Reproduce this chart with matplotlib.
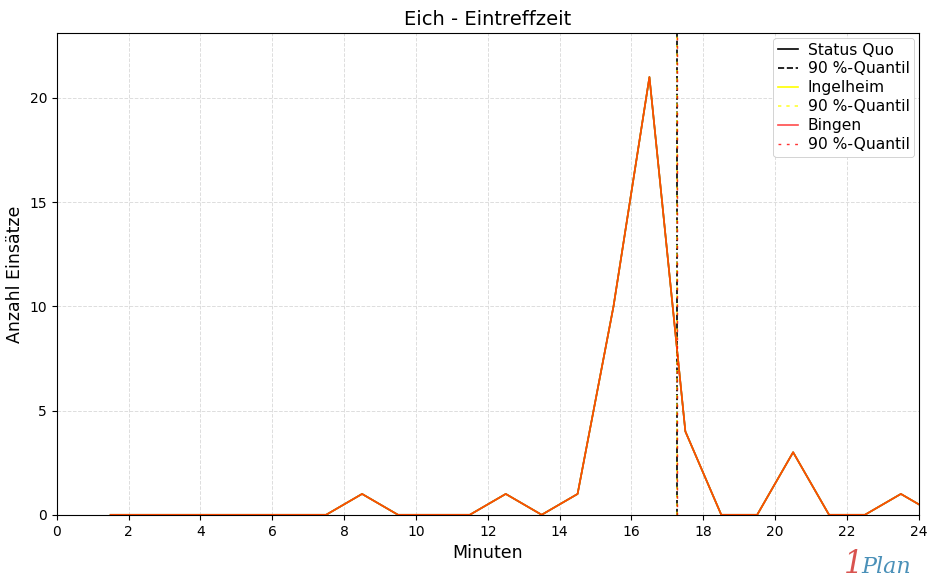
import numpy as np
import matplotlib.pyplot as plt

# Eintreffzeit-Verteilung (Minuten, Klassenmitte)
minuten = np.arange(1.5, 25.0, 1.0)
status_quo = [0, 0, 0, 0, 0, 0, 0, 1, 0, 0, 0, 1, 0, 1, 10, 21, 4, 0, 0, 3, 0, 0, 1, 0]
ingelheim = [0, 0, 0, 0, 0, 0, 0, 1, 0, 0, 0, 1, 0, 1, 10, 21, 4, 0, 0, 3, 0, 0, 1, 0]
bingen = [0, 0, 0, 0, 0, 0, 0, 1, 0, 0, 0, 1, 0, 1, 10, 21, 4, 0, 0, 3, 0, 0, 1, 0]
quantile = [17.27, 17.27, 17.27]

fig, ax = plt.subplots(figsize=(9.3, 5.83), dpi=100)

ymax = max(status_quo) * 1.1

ax.plot(minuten, status_quo, color="black", lw=1.2, label="Status Quo")
ax.axvline(quantile[0], color="black", ls="--", lw=1.2, label="90 %-Quantil")
ax.plot(minuten, ingelheim, color="yellow", lw=1.2, label="Ingelheim")
ax.axvline(quantile[1], color="yellow", ls=(0, (2, 3)), lw=1.2, alpha=0.8, label="90 %-Quantil")
ax.plot(minuten, bingen, color="red", lw=1.2, alpha=0.7, label="Bingen")
ax.axvline(quantile[2], color="red", ls=(0, (2, 4)), lw=1.0, alpha=0.8, label="90 %-Quantil")

ax.set_xlim(0, 24)
ax.set_ylim(0, ymax)
ax.set_xticks(np.arange(0, 25, 2))
ax.set_yticks([0, 5, 10, 15, 20])
ax.tick_params(labelsize=10)
ax.grid(True, color="#dddddd", ls="--", lw=0.7)

ax.set_title("Eich - Eintreffzeit", fontsize=14)
ax.set_xlabel("Minuten", fontsize=12.5)
ax.set_ylabel("Anzahl Einsätze", fontsize=12.5)
leg = ax.legend(loc="upper right", fontsize=11.2, handlelength=1.3, borderpad=0.3,
                labelspacing=0.25, handletextpad=0.6, borderaxespad=0.3, framealpha=1)
leg.get_frame().set_linewidth(0.6)

plt.subplots_adjust(left=0.061, right=0.988, top=0.943, bottom=0.117)

# Logo
fig.text(0.907, 0.005, "1", color="#d9534f", fontsize=22, style="italic",
         family="DejaVu Serif", ha="left", va="bottom")
fig.text(0.926, 0.008, "Plan", color="#4a90b8", fontsize=16, style="italic",
         family="DejaVu Serif", ha="left", va="bottom")

fig.savefig("out.png", dpi=100)
